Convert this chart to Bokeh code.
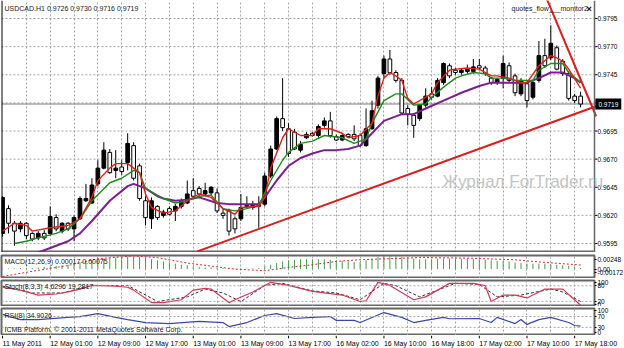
from bokeh.plotting import figure
from bokeh.layouts import column
from bokeh.models import (Range1d, FixedTicker, Label, Span,
                          ColumnDataSource, PrintfTickFormatter)
from bokeh.core.properties import value
from bokeh.embed import file_html
from bokeh.resources import INLINE

# ---------------- data (USDCAD H1) ----------------
bars = list(range(98))
open_ = [0.9604,0.9626,0.9613,0.9608,0.9613,0.9604,0.9600,0.9604,0.9604,0.9618,
         0.9606,0.9613,0.9608,0.9617,0.9633,0.9631,0.9648,0.9662,0.9676,0.9660,
         0.9663,0.9667,0.9682,0.9664,0.9633,0.9617,0.9628,0.9620,0.9626,0.9624,
         0.9628,0.9631,0.9642,0.9644,0.9639,0.9640,0.9640,0.9622,0.9624,0.9617,
         0.9617,0.9628,0.9627,0.9630,0.9630,0.9655,0.9679,0.9706,0.9697,0.9694,
         0.9678,0.9689,0.9693,0.9691,0.9700,0.9704,0.9690,0.9687,0.9692,0.9692,
         0.9691,0.9682,0.9697,0.9718,0.9746,0.9759,0.9747,0.9740,0.9715,0.9709,
         0.9706,0.9718,0.9728,0.9726,0.9738,0.9753,0.9749,0.9747,0.9748,0.9748,
         0.9753,0.9751,0.9742,0.9738,0.9742,0.9753,0.9744,0.9728,0.9737,0.9725,
         0.9740,0.9762,0.9760,0.9769,0.9757,0.9746,0.9726,0.9726]
high = [0.9637,0.9629,0.9615,0.9615,0.9614,0.9605,0.9606,0.9607,0.9628,0.9621,
        0.9614,0.9614,0.9620,0.9637,0.9648,0.9653,0.9669,0.9685,0.9679,0.9678,
        0.9669,0.9693,0.9685,0.9666,0.9637,0.9636,0.9629,0.9625,0.9628,0.9630,
        0.9635,0.9651,0.9653,0.9646,0.9649,0.9646,0.9644,0.9626,0.9626,0.9619,
        0.9639,0.9637,0.9633,0.9637,0.9658,0.9682,0.9708,0.9742,0.9702,0.9697,
        0.9686,0.9694,0.9694,0.9701,0.9707,0.9712,0.9692,0.9693,0.9693,0.9700,
        0.9693,0.9715,0.9722,0.9744,0.9762,0.9767,0.9749,0.9742,0.9718,0.9711,
        0.9719,0.9733,0.9734,0.9742,0.9756,0.9755,0.9751,0.9751,0.9754,0.9759,
        0.9759,0.9753,0.9743,0.9742,0.9762,0.9756,0.9746,0.9742,0.9739,0.9740,
        0.9775,0.9777,0.9789,0.9771,0.9759,0.9748,0.9728,0.9730]
low = [0.9601,0.9604,0.9593,0.9605,0.9599,0.9597,0.9598,0.9598,0.9602,0.9606,
       0.9604,0.9606,0.9597,0.9616,0.9632,0.9630,0.9646,0.9661,0.9657,0.9653,
       0.9656,0.9660,0.9651,0.9633,0.9611,0.9608,0.9616,0.9618,0.9620,0.9615,
       0.9626,0.9630,0.9635,0.9637,0.9637,0.9638,0.9622,0.9617,0.9602,0.9604,
       0.9615,0.9626,0.9625,0.9609,0.9628,0.9653,0.9678,0.9695,0.9672,0.9678,
       0.9676,0.9688,0.9690,0.9689,0.9698,0.9689,0.9686,0.9686,0.9689,0.9686,
       0.9681,0.9681,0.9696,0.9715,0.9742,0.9745,0.9738,0.9709,0.9700,0.9689,
       0.9704,0.9716,0.9723,0.9725,0.9736,0.9742,0.9745,0.9745,0.9746,0.9746,
       0.9749,0.9744,0.9736,0.9736,0.9733,0.9738,0.9726,0.9726,0.9716,0.9723,
       0.9738,0.9751,0.9758,0.9749,0.9744,0.9722,0.9720,0.9716]
close = [0.9636,0.9613,0.9606,0.9613,0.9602,0.9599,0.9604,0.9600,0.9619,0.9608,
         0.9613,0.9608,0.9618,0.9635,0.9635,0.9647,0.9662,0.9678,0.9658,0.9662,
         0.9659,0.9684,0.9653,0.9635,0.9618,0.9633,0.9618,0.9623,0.9621,0.9628,
         0.9633,0.9639,0.9637,0.9639,0.9642,0.9645,0.9624,0.9620,0.9606,0.9608,
         0.9627,0.9629,0.9630,0.9628,0.9655,0.9679,0.9706,0.9698,0.9675,0.9679,
         0.9683,0.9692,0.9691,0.9699,0.9704,0.9691,0.9687,0.9691,0.9690,0.9688,
         0.9682,0.9697,0.9713,0.9742,0.9759,0.9747,0.9740,0.9711,0.9710,0.9700,
         0.9718,0.9726,0.9725,0.9740,0.9755,0.9744,0.9747,0.9749,0.9750,0.9752,
         0.9751,0.9746,0.9738,0.9741,0.9755,0.9740,0.9729,0.9740,0.9722,0.9738,
         0.9762,0.9753,0.9773,0.9750,0.9746,0.9724,0.9722,0.9719]

# moving averages (bar index, price)
ma_red_x = [0,2,4,5,8,11,13,15,16,18,19,21,23,24,25,27,29,31,33,35,37,39,40,43,44,45,47,48,50,52,
            53,55,57,58,60,62,63,64,65,66,67,68,69,70,72,73,75,76,78,80,82,83,85,87,88,90,92,93,94,95,97]
ma_red_y = [0.9606,0.9613,0.9611,0.9606,0.9609,0.9611,0.9617,0.9636,0.9651,0.9662,0.9666,0.9666,
            0.9658,0.9639,0.9627,0.9622,0.9624,0.9633,0.9639,0.9636,0.9626,0.9621,0.9627,0.9628,
            0.9636,0.9662,0.9689,0.9697,0.9691,0.9691,0.9697,0.9697,0.9693,0.9689,0.9691,0.9702,
            0.9726,0.9742,0.9747,0.9744,0.9740,0.9724,0.9719,0.9722,0.9728,0.9738,0.9749,0.9750,
            0.9751,0.9750,0.9744,0.9744,0.9742,0.9738,0.9738,0.9753,0.9762,0.9760,0.9757,0.9750,0.9733]
ma_green_x = [2,4,6,9,11,13,15,18,20,22,23,24,27,29,31,33,35,37,39,41,43,45,47,48,50,52,54,57,59,61,
              62,64,66,67,69,71,72,74,76,77,79,81,82,84,86,89,90,92,94,95,97]
ma_green_y = [0.9595,0.9597,0.9600,0.9604,0.9608,0.9617,0.9633,0.9649,0.9653,0.9660,0.9658,0.9644,
              0.9635,0.9631,0.9633,0.9637,0.9638,0.9626,0.9624,0.9626,0.9629,0.9651,0.9669,0.9676,
              0.9684,0.9686,0.9691,0.9689,0.9684,0.9688,0.9702,0.9722,0.9728,0.9728,0.9718,0.9719,
              0.9725,0.9734,0.9742,0.9744,0.9747,0.9746,0.9742,0.9742,0.9740,0.9740,0.9749,0.9755,
              0.9755,0.9747,0.9738]
ma_purple_x = [6,8,11,13,15,18,21,22,24,26,27,29,31,33,36,38,40,43,44,46,48,50,52,54,56,58,60,62,64,
               67,69,71,74,77,80,82,85,88,90,92,94,96,97]
ma_purple_y = [0.9587,0.9591,0.9597,0.9604,0.9615,0.9633,0.9646,0.9648,0.9644,0.9637,0.9635,0.9633,
               0.9634,0.9636,0.9631,0.9630,0.9630,0.9630,0.9636,0.9651,0.9664,0.9671,0.9675,0.9678,
               0.9678,0.9679,0.9682,0.9693,0.9704,0.9710,0.9710,0.9715,0.9722,0.9729,0.9735,0.9738,
               0.9738,0.9738,0.9742,0.9747,0.9747,0.9742,0.9738]

# trend lines (bar index, price)
trend_up_x = [32.7, 99.6]
trend_up_y = [0.9588, 0.9717]
trend_down_x = [90.8, 99.6]
trend_down_y = [0.9819, 0.97081]
bid_price = 0.9719

# MACD(12,26,9): main (histogram) and signal
macd_hist = [0.0001,0.0001,0.0001,0.0002,0.0002,0.0002,0.0003,0.0004,
             0.0005,0.0006,0.0007,0.0008,0.0010,0.0012,0.0014,0.0016,
             0.0018,0.0019,0.0020,0.0021,0.0022,0.0023,0.0023,0.0022,
             0.0020,0.0018,0.0016,0.0014,0.0012,0.0010,0.0008,0.0007,
             0.0005,0.0004,0.0003,0.0003,0.0002,0.0002,0.0001,0.0001,
             0.0001,0.0001,0.0001,0.0002,
             0.0005,0.0008,0.0011,0.0014,0.0016,0.0017,0.0018,0.0018,
             0.0018,0.0018,0.0018,0.0017,0.0016,0.0015,0.0014,0.0013,
             0.0013,0.0016,0.0019,0.0022,0.0024,0.0024,0.0023,0.0022,
             0.0020,0.0019,0.0018,0.0018,0.0018,0.0019,0.0019,0.0019,
             0.0019,0.0019,0.0019,0.0018,0.0018,0.0017,0.0016,0.0015,0.0015,0.0014,
             0.0012,0.0011,0.0010,0.0010,0.0010,0.0010,0.0009,0.0008,0.0007,0.0006,0.0004,0.00017]
macd_sig_x = [0,5,11,16,22,26,31,39,44,48,52,56,60,65,70,78,86,90,97]
macd_sig_y = [-0.00135,-0.0004,0.00066,0.0019,0.0024,0.0021,0.0011,0.0,-0.0003,0.0003,0.0008,
              0.0014,0.0017,0.0019,0.0021,0.0020,0.0017,0.0013,0.00075]

# Stochastic(8,3,3)
stoch_main_x = [0,3,6,9,11,13,15,19,21,22,25,27,30,32,34,35,38,39,42,45,48,50,52,57,60,61,63,65,
                69,71,75,79,81,82,84,86,88,91,94,97]
stoch_main_y = [74,63,44,48,56,67,81,78,74,63,15,15,26,63,70,67,15,26,56,93,81,70,58,44,19,22,93,
                81,26,37,89,89,80,19,44,44,33,67,67,4.6296]
stoch_sig_x = [0,5,10,15,21,24,26,31,34,37,40,44,47,52,56,60,64,66,70,76,80,83,87,92,94,97]
stoch_sig_y = [78,52,52,81,81,44,19,37,67,52,19,81,89,60,52,26,89,80,37,89,85,37,44,67,56,19.2817]

# RSI(8)
rsi_x = [0,3,6,11,13,16,19,21,24,28,33,37,38,41,44,46,49,52,55,56,59,60,64,67,69,71,74,75,80,82,
         83,86,87,88,90,92,95,96,97]
rsi_y = [78,59,59,67,70,81,67,59,48,44,52,48,33,48,74,81,63,67,70,56,56,48,85,67,48,56,67,62,63,48,
         67,44,59,41,59,67,48,37,34.9026]

time_label_bars = [0, 8, 16, 24, 32, 40, 48, 56, 64, 72, 80, 88, 96]
time_labels = ["11 May 2011", "12 May 01:00", "12 May 09:00", "12 May 17:00", "13 May 01:00",
               "13 May 09:00", "13 May 17:00", "16 May 02:00", "16 May 10:00", "16 May 18:00",
               "17 May 02:00", "17 May 10:00", "17 May 18:00"]
price_ticks = [0.9595, 0.9620, 0.9645, 0.9670, 0.9695, 0.9745, 0.9770, 0.9795]
price_grid = [0.9595, 0.9620, 0.9645, 0.9670, 0.9695, 0.9720, 0.9745, 0.9770, 0.9795]

# ---------------- layout constants ----------------
FONT = "Liberation Sans"
GRID = "#a4a4a4"
EDGE = "#666666"
X0, X1 = -0.17, 99.33            # bar range covered by the 593 px chart area
PXB = 593 / (X1 - X0)            # pixels per bar
xr = Range1d(X0, X1)
vgrid = list(range(4, 100, 4))


def base_fig(fw, fh, xrange, yr, top, right=0):
    f = figure(frame_width=fw, frame_height=fh, x_range=xrange, y_range=yr,
               output_backend="svg", toolbar_location=None,
               x_axis_location=None, y_axis_location="right",
               min_border_left=1, min_border_right=right, min_border_top=top,
               min_border_bottom=0, background_fill_color="white",
               border_fill_color="white", outline_line_color=EDGE,
               outline_line_width=2)
    f.xgrid.ticker = FixedTicker(ticks=vgrid)
    f.xgrid.grid_line_color = GRID
    f.xgrid.grid_line_dash = "2 2"
    f.ygrid.grid_line_color = None
    ax = f.yaxis[0]
    ax.axis_line_color = None
    ax.major_tick_in = 0
    ax.major_tick_out = 2
    ax.major_tick_line_color = "black"
    ax.minor_tick_line_color = None
    ax.major_label_standoff = 1
    ax.major_label_text_font = FONT
    ax.major_label_text_font_size = "6.5px"
    ax.major_label_text_color = "black"
    return f


def tag(f, text, x, y, size="7px", color="#1a1a1a", style="normal"):
    f.add_layout(Label(x=x, y=y, x_units="screen", y_units="screen", text=text,
                       text_font=FONT, text_font_size=size, text_color=color,
                       text_baseline="middle", text_align="left", text_font_style=style))


# ---------------- main price panel (frame reaches the right edge) ----------------
YB, YT = 0.95870, 0.98110
p = base_fig(622, 252, Range1d(X0, X0 + 622 / PXB), Range1d(YB, YT), 0, right=1)
p.outline_line_color = None
ax = p.yaxis[0]
ax.ticker = FixedTicker(ticks=price_ticks)
ax.formatter = PrintfTickFormatter(format="%.4f")
ax.major_tick_line_color = None
ax.major_tick_out = 0
ax.major_label_standoff = -26

n = len(price_grid)
p.segment(x0=[X0] * n, y0=price_grid, x1=[X1] * n, y1=price_grid,
          line_color=GRID, line_dash="2 2", line_width=1)
p.segment(x0=[X1] * n, y0=price_grid, x1=[X1 + 0.5] * n, y1=price_grid,
          line_color="black", line_width=1)
p.segment(x0=[X0], y0=[bid_price], x1=[X1], y1=[bid_price], line_color="#7c7c7c", line_width=1)
p.add_layout(Span(location=X0, dimension="height", line_color="black", line_width=2))
p.add_layout(Span(location=X1, dimension="height", line_color=EDGE, line_width=1.5))
p.segment(x0=[X0], y0=[YB], x1=[X1], y1=[YB], line_color=EDGE, line_width=4)

fills = ["black" if c >= o else "white" for o, c in zip(open_, close)]
src = ColumnDataSource(dict(x=bars, o=open_, h=high, l=low, c=close,
                            top=[max(o, c) for o, c in zip(open_, close)],
                            bot=[min(o, c) for o, c in zip(open_, close)],
                            fill=fills))
p.segment(x0="x", y0="l", x1="x", y1="h", source=src, line_color="black", line_width=1)
p.vbar(x="x", width=0.62, top="top", bottom="bot", source=src, fill_color="fill",
       line_color="black", line_width=1)

p.line(ma_purple_x, ma_purple_y, line_color="#7b1f8f", line_width=2)
p.line(ma_green_x, ma_green_y, line_color="#1f8a1f", line_width=1.4)
p.line(ma_red_x, ma_red_y, line_color="#e0201c", line_width=1.4)

p.line(trend_up_x, trend_up_y, line_color="#d81e1e", line_width=2)
p.line(trend_down_x, trend_down_y, line_color="#d81e1e", line_width=2)

p.add_layout(Label(x=441, y=71, x_units="screen", y_units="screen",
                   text="Журнал ForTrader.ru", text_font=FONT,
                   text_font_size="17px", text_color="#c4c4c4",
                   text_baseline="middle", text_align="left"))
tag(p, "USDCAD.H1  0.9726 0.9730 0.9716 0.9719", 3, 244)
tag(p, "quotes_flow___monitor2", 510, 244)
tag(p, "×", 585, 244, size="9px", color="black", style="bold")
p.add_layout(Label(x=X1 + 0.15, y=bid_price, x_units="data", y_units="data",
                   text="0.9719", text_font=FONT, text_font_size="6.5px",
                   text_color="white", background_fill_color="black",
                   text_baseline="middle", text_align="left", padding=3))

# ---------------- MACD panel ----------------
m = base_fig(593, 23, xr, Range1d(-0.00172, 0.00248), 3)
m_ticks = [-0.00062, 0.0, 0.00175]
m.yaxis.ticker = FixedTicker(ticks=m_ticks)
m.yaxis.major_label_overrides = {m_ticks[0]: "-0.00172", m_ticks[1]: "0.00", m_ticks[2]: "0.00248"}
m.segment(x0=bars, y0=[0.0] * len(bars), x1=bars, y1=macd_hist, line_color="#4a9a4a", line_width=1)
m.line(macd_sig_x, macd_sig_y, line_color="#d03030", line_width=1, line_dash="2 2")
tag(m, "MACD(12,26,9) 0.00017 0.00075", 3, 17)

# ---------------- Stochastic panel ----------------
s = base_fig(593, 26, xr, Range1d(0, 100), 2)
s_ticks = [8, 20, 80, 94]
s.yaxis.ticker = FixedTicker(ticks=s_ticks)
s.yaxis.major_label_overrides = {8: "0", 20: "20", 80: "80", 94: "100"}
for lv in (20, 80):
    s.add_layout(Span(location=lv, dimension="width", line_color=GRID, line_dash="2 2", line_width=1))
s.line(stoch_sig_x, stoch_sig_y, line_color="#333333", line_width=1, line_dash="3 2")
s.line(stoch_main_x, stoch_main_y, line_color="#d03a5a", line_width=1.2)
tag(s, "Stoch(8,3,3) 4.6296 19.2817", 3, 20)

# ---------------- RSI panel ----------------
r = base_fig(593, 27, xr, Range1d(0, 100), 2)
r_ticks = [11, 30, 70, 93]
r.yaxis.ticker = FixedTicker(ticks=r_ticks)
r.yaxis.major_label_overrides = {11: "0", 30: "30", 70: "70", 93: "100"}
for lv in (30, 70):
    r.add_layout(Span(location=lv, dimension="width", line_color=GRID, line_dash="2 2", line_width=1))
r.line(rsi_x, rsi_y, line_color="#3a47a8", line_width=1.2)
tag(r, "RSI(8) 34.9026", 3, 20)
tag(r, "ICMB Platform, © 2001-2011 MetaQuotes Software Corp.", 3, 6)

# ---------------- time scale strip ----------------
t = figure(frame_width=623, frame_height=13, x_range=Range1d(X0, X0 + 623 / PXB),
           y_range=Range1d(0, 1), output_backend="svg", toolbar_location=None,
           x_axis_location=None, y_axis_location=None, min_border_left=1,
           min_border_right=0, min_border_top=0, min_border_bottom=0,
           outline_line_color=None, background_fill_color="white", border_fill_color="white")
t.grid.visible = False
k = len(time_label_bars)
t.segment(x0=time_label_bars, y0=[0.78] * k, x1=time_label_bars, y1=[1.0] * k,
          line_color="black", line_width=1)
t.text(x=time_label_bars, y=[0.42] * k, text=time_labels, text_font=value(FONT),
       text_font_size=value("7px"), text_color="black", text_align="left",
       text_baseline="middle")

layout = column(p, m, s, r, t, spacing=0)
open("out.html", "w").write(file_html(layout, INLINE))
